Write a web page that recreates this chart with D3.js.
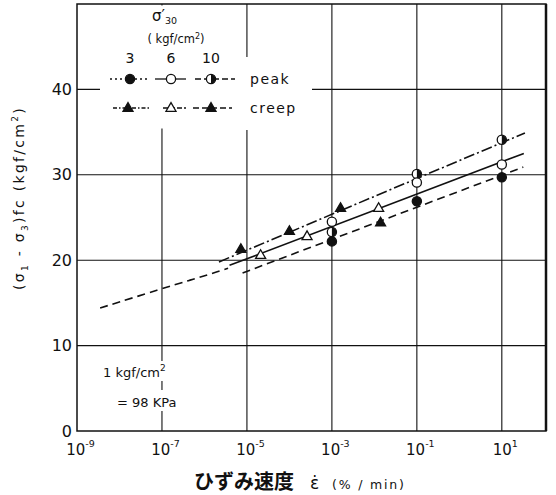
<!DOCTYPE html>
<html><head><meta charset="utf-8">
<script src="https://cdn.jsdelivr.net/npm/d3@7"></script>
<style>body{margin:0;background:#fff} svg{display:block}</style>
</head><body><svg id="c" width="556" height="495"></svg>
<script>
// ---- data ----
const xTicks = [1e-9, 1e-7, 1e-5, 1e-3, 1e-1, 1e1];
const xTickExp = ["-9", "-7", "-5", "-3", "-1", "1"];
const xGrid = [1e-7, 1e-5, 1e-3, 1e-1, 1e1];
const yTicks = [0, 10, 20, 30, 40];
const yGrid = [10, 20, 30, 40];
const sigmaLabels = ["3", "6", "10"];
const peakRate = [1e-3, 1e-1, 1e1];
const peak3 = [22.2, 26.9, 29.7];
const peak6 = [24.5, 29.1, 31.2];
const peak10 = [23.3, 30.1, 34.1];
const creep3Rate = [1.4e-2];
const creep3 = [24.4];
const creep6Rate = [2.1e-5, 2.6e-4, 1.26e-2];
const creep6 = [20.6, 22.8, 26.1];
const creep10Rate = [7.2e-6, 1e-4, 1.6e-3];
const creep10 = [21.3, 23.4, 26.1];
const fit10Rate = [2.2e-6, 35];
const fit10 = [19.8, 34.9];
const fit6Rate = [3.9e-6, 33];
const fit6 = [19.4, 32.5];
const fit3Rate = [7.9e-6, 32];
const fit3 = [18.5, 30.9];
const extraRate = [3.5e-9, 1.05e-7, 4.5e-7, 2.2e-6, 3.6e-6];
const extra = [14.4, 16.7, 17.65, 18.7, 19.05];

// ---- layout ----
const L = 77, R = 546, T = 4, B = 431;
const svg = d3.select("#c");
const x = d3.scaleLog().domain([1e-9, Math.pow(10, 2.04)]).range([L, R]);
const y = d3.scaleLinear().domain([0, 50]).range([B, T]);
const ink = "#111";
const font = "'DejaVu Sans', sans-serif";

// grid
const g = svg.append("g");
g.selectAll(".vg").data(xGrid).join("line")
  .attr("x1", d => x(d)).attr("x2", d => x(d)).attr("y1", T).attr("y2", B)
  .attr("stroke", ink).attr("stroke-width", 1.1);
g.selectAll(".hg").data(yGrid).join("line")
  .attr("y1", d => y(d)).attr("y2", d => y(d)).attr("x1", L).attr("x2", R)
  .attr("stroke", ink).attr("stroke-width", 1.1);

// masks (gaps in the grid behind legend and note)
svg.append("rect").attr("x", 100).attr("y", T + 1.5).attr("width", 140).attr("height", 123).attr("fill", "#fff");
svg.append("rect").attr("x", 240).attr("y", 57).attr("width", 72).attr("height", 73).attr("fill", "#fff");
svg.append("rect").attr("x", 100).attr("y", 361).attr("width", 90).attr("height", 20).attr("fill", "#fff");
svg.append("rect").attr("x", 100).attr("y", 390).attr("width", 90).attr("height", 21).attr("fill", "#fff");

// frame
svg.append("rect").attr("x", L).attr("y", T).attr("width", R - L).attr("height", B - T)
  .attr("fill", "none").attr("stroke", ink).attr("stroke-width", 1.5);
svg.append("line").attr("x1", R).attr("x2", R).attr("y1", T).attr("y2", B).attr("stroke", ink).attr("stroke-width", 2.5);

// axes (labels)
const xAxis = svg.append("g").attr("transform", `translate(0,${B})`)
  .call(d3.axisBottom(x).tickValues(xTicks).tickSize(0).tickFormat(""));
xAxis.select(".domain").remove();
xAxis.selectAll(".tick").each(function(d, i) {
  const t = d3.select(this).append("text").attr("fill", ink).attr("y", 24)
    .attr("font-family", font).attr("font-size", 15).attr("text-anchor", "middle").attr("dx", 3);
  t.append("tspan").text("10");
  t.append("tspan").attr("font-size", 9.5).attr("dy", -8).text(xTickExp[i]);
});
const yAxis = svg.append("g").attr("transform", `translate(${L},0)`)
  .call(d3.axisLeft(y).tickValues(yTicks).tickSize(0).tickPadding(5));
yAxis.select(".domain").remove();
yAxis.selectAll("text").attr("font-family", font).attr("font-size", 16).attr("fill", ink);

// lines
const line = d3.line().x(d => x(d[0])).y(d => y(d[1]));
const zipv = (a, b) => a.map((v, i) => [v, b[i]]);
svg.append("path").attr("d", line(zipv(fit10Rate, fit10)))
  .attr("fill", "none").attr("stroke", ink).attr("stroke-width", 1.6).attr("stroke-dasharray", "11,3,2,3");
svg.append("path").attr("d", line(zipv(fit6Rate, fit6)))
  .attr("fill", "none").attr("stroke", ink).attr("stroke-width", 1.6);
svg.append("path").attr("d", line(zipv(fit3Rate, fit3)))
  .attr("fill", "none").attr("stroke", ink).attr("stroke-width", 1.6).attr("stroke-dasharray", "8,5");
svg.append("path").attr("d", d3.line().x(d => x(d[0])).y(d => y(d[1])).curve(d3.curveBasis)(zipv(extraRate, extra)))
  .attr("fill", "none").attr("stroke", ink).attr("stroke-width", 1.6).attr("stroke-dasharray", "8,5");

// markers
const R0 = 4.6;
function circ(sel, cx, cy, kind) {
  sel.append("circle").attr("cx", cx).attr("cy", cy).attr("r", R0)
    .attr("fill", kind === "filled" ? ink : "#fff").attr("stroke", ink).attr("stroke-width", 1.3);
  if (kind === "half") {
    sel.append("path").attr("d", `M${cx},${cy - R0} A${R0},${R0} 0 0 1 ${cx},${cy + R0} Z`).attr("fill", ink);
  }
}
function tri(sel, cx, cy, filled) {
  const s = 10, h = s * Math.sqrt(3) / 2;
  sel.append("path")
    .attr("d", `M${cx},${cy - h * 0.62} L${cx + s / 2},${cy + h * 0.38} L${cx - s / 2},${cy + h * 0.38} Z`)
    .attr("fill", filled ? ink : "#fff").attr("stroke", ink).attr("stroke-width", 1.3).attr("stroke-linejoin", "miter");
}
const m = svg.append("g");
peakRate.forEach((r, i) => { circ(m, x(r), y(peak3[i]), "filled"); });
peakRate.forEach((r, i) => { circ(m, x(r), y(peak10[i]), "half"); });
peakRate.forEach((r, i) => { circ(m, x(r), y(peak6[i]), "open"); });
creep3Rate.forEach((r, i) => tri(m, x(r), y(creep3[i]), true));
creep6Rate.forEach((r, i) => tri(m, x(r), y(creep6[i]), false));
creep10Rate.forEach((r, i) => tri(m, x(r), y(creep10[i]), true));

// legend
const lg = svg.append("g").attr("font-family", font).attr("fill", ink);
const st = lg.append("text").attr("x", 152).attr("y", 21).attr("font-size", 15);
st.append("tspan").text("σ′");
st.append("tspan").attr("font-size", 9.5).attr("dy", 3).text("30");
const ku = lg.append("text").attr("x", 176).attr("y", 43).attr("font-size", 11.5).attr("text-anchor", "middle");
ku.append("tspan").text("( kgf/cm");
ku.append("tspan").attr("font-size", 8).attr("dy", -4).text("2");
ku.append("tspan").attr("dy", 4).text(")");
const colX = [130, 171, 211];
sigmaLabels.forEach((s, i) => lg.append("text").attr("x", colX[i]).attr("y", 63).attr("font-size", 14)
  .attr("text-anchor", "middle").text(s));
const segs = [[110, 150, "2,3"], [155, 186, null], [195, 235, "6,3"]];
const segsC = [[113, 150, "4,2,1.5,2"], [163, 186, "5,2"], [193, 232, "6,3"]];
const rowP = 79, rowC = 108;
segs.forEach(s => lg.append("line").attr("x1", s[0]).attr("x2", s[1]).attr("y1", rowP).attr("y2", rowP)
  .attr("stroke", ink).attr("stroke-width", 1.3).attr("stroke-dasharray", s[2]));
segsC.forEach(s => lg.append("line").attr("x1", s[0]).attr("x2", s[1]).attr("y1", rowC).attr("y2", rowC)
  .attr("stroke", ink).attr("stroke-width", 1.3).attr("stroke-dasharray", s[2]));
circ(lg, colX[0], rowP, "filled");
circ(lg, colX[1], rowP, "open");
circ(lg, colX[2], rowP, "half");
tri(lg, colX[0] - 2, rowC, true);
tri(lg, colX[1], rowC, false);
tri(lg, colX[2], rowC, true);
lg.append("text").attr("x", 250).attr("y", 84).attr("font-size", 14).attr("letter-spacing", 1.5).text("peak");
lg.append("text").attr("x", 250).attr("y", 113).attr("font-size", 14).attr("letter-spacing", 1.5).text("creep");

// note
const nt = svg.append("g").attr("font-family", font).attr("fill", ink).attr("font-size", 13);
const n1 = nt.append("text").attr("x", 103).attr("y", 377);
n1.append("tspan").text("1  kgf/cm");
n1.append("tspan").attr("font-size", 9).attr("dy", -6).text("2");
nt.append("text").attr("x", 117).attr("y", 407).text("=  98 KPa");

// y title
const yt = svg.append("text").attr("transform", "translate(24,198) rotate(-90)")
  .attr("text-anchor", "middle").attr("font-family", font).attr("font-size", 14).attr("fill", ink)
  .attr("letter-spacing", 2.3);
yt.append("tspan").text("(σ");
yt.append("tspan").attr("font-size", 9).attr("dy", 4).text("1");
yt.append("tspan").attr("dy", -4).text(" - σ");
yt.append("tspan").attr("font-size", 9).attr("dy", 4).text("3");
yt.append("tspan").attr("dy", -4).text(")fc    (kgf/cm");
yt.append("tspan").attr("font-size", 9).attr("dy", -6).text("2");
yt.append("tspan").attr("dy", 6).text(")");

// x title
svg.append("text").attr("x", 194).attr("y", 489).attr("font-family", "'Noto Sans CJK JP', sans-serif")
  .attr("font-weight", "bold").attr("font-size", 20).attr("fill", ink).text("ひずみ速度");
svg.append("text").attr("x", 310).attr("y", 489).attr("font-family", font).attr("font-size", 17).attr("fill", ink).text("ε̇");
svg.append("text").attr("x", 332).attr("y", 489).attr("font-family", font).attr("font-size", 12.5)
  .attr("letter-spacing", 1.8).attr("fill", ink).text("(% / min)");
</script></body></html>
